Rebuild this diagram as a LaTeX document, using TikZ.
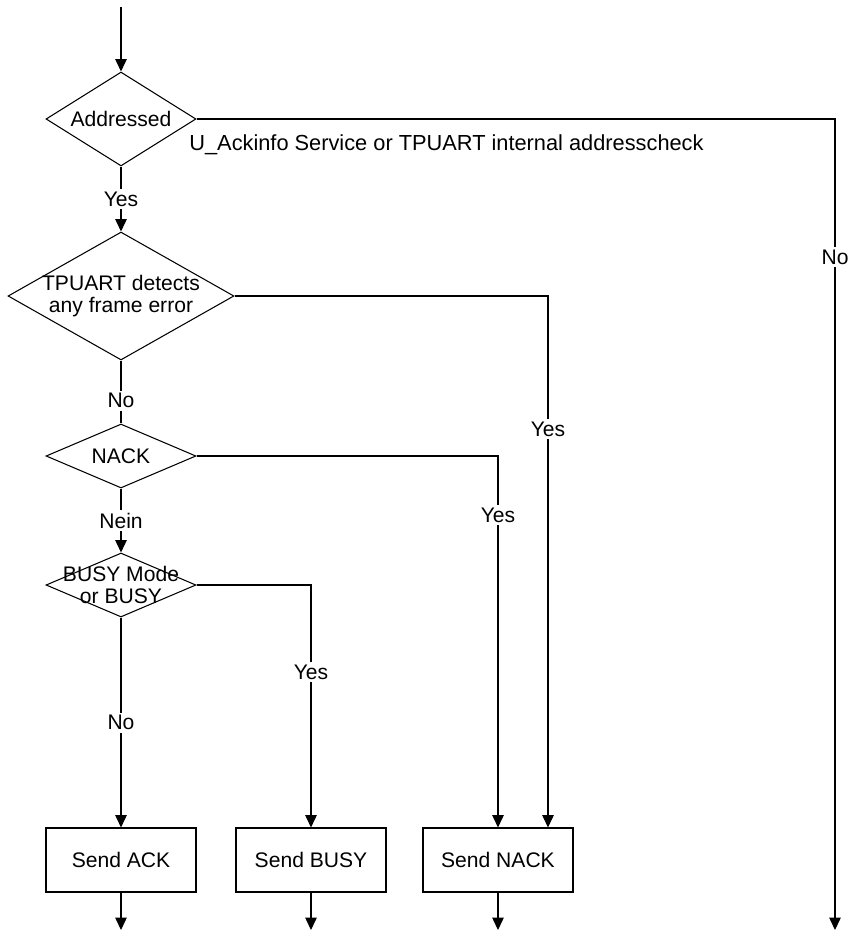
\documentclass[tikz,border=0pt]{standalone}
\usepackage{fontspec}
\setmainfont{Liberation Sans}
\usetikzlibrary{shapes.geometric,positioning,arrows.meta,calc}

\begin{document}
\begin{tikzpicture}[x=0.02cm,y=-0.02cm,font=\fontsize{12}{13}\selectfont,line width=0.6pt,
    decision/.style={diamond, draw, inner sep=0pt},
    action/.style={rectangle, draw, minimum width=3cm, minimum height=1.28cm},
    lbl/.style={fill=white, inner sep=1.5pt},
    arr/.style={-{Triangle[length=7pt,width=6.5pt]}}]
\useasboundingbox (0,0) rectangle (852,937);
\coordinate (start) at (121,7);
\node[decision, minimum width=3cm, minimum height=1.88cm, label={center:Addressed}] (addr) at (121,119) {};
\node[decision, minimum width=4.52cm, minimum height=2.56cm,
      label={[align=center]center:{TPUART detects\\any frame error}}] (tpuart) at (121,296) {};
\node[decision, minimum width=3cm, minimum height=1.28cm, label={center:NACK}] (nack) at (121,456) {};
\node[decision, minimum width=3cm, minimum height=1.28cm,
      label={[align=center]center:{BUSY Mode\\or BUSY}}] (busy) at (121,585) {};
\node[action] (sendack) at (121,860) {Send ACK};
\node[action] (sendbusy) at (311,860) {Send BUSY};
\node[action] (sendnack) at (498,860) {Send NACK};
\node[anchor=west, font=\fontsize{12.4}{13}\selectfont] (svc) at (183,145) {U\_Ackinfo Service or TPUART internal addresscheck};
\coordinate (errin) at ($(sendnack.north)+(50,0)$);
\coordinate (outack) at (121,930);
\coordinate (outbusy) at (311,930);
\coordinate (outnack) at (498,930);
\coordinate (outno) at (835,930);
% main column
\draw[arr] (start) -- (addr.north);
\draw[arr] (addr.south) -- node[lbl]{Yes} (tpuart.north);
\draw (tpuart.south) -- node[lbl, pos=0.64]{No} (nack.north);
\draw[arr] (nack.south) -- node[lbl]{Nein} (busy.north);
\draw[arr] (busy.south) -- node[lbl]{No} (sendack.north);
% branches
\draw[arr] (busy.east) -| node[lbl, pos=0.68]{Yes} (sendbusy.north);
\draw[arr] (nack.east) -| node[lbl, pos=0.58]{Yes} (sendnack.north);
\draw[arr] (tpuart.east) -| node[lbl, pos=0.625]{Yes} (errin);
\draw[arr] (addr.east) -| node[lbl, pos=0.585]{No} (outno);
% outputs
\draw[arr] (sendack.south) -- (outack);
\draw[arr] (sendbusy.south) -- (outbusy);
\draw[arr] (sendnack.south) -- (outnack);
\end{tikzpicture}
\end{document}
